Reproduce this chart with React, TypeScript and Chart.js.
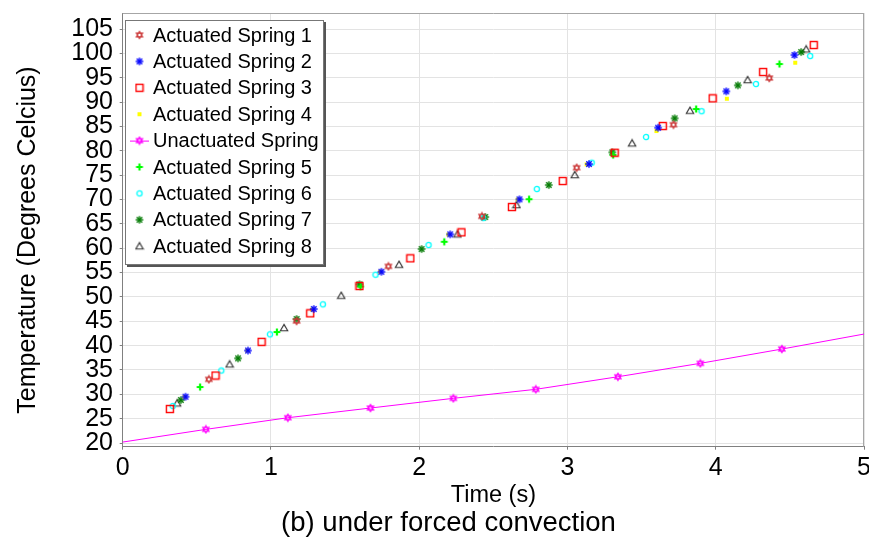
import React, { useEffect, useRef } from 'react';
import { Chart, registerables } from 'chart.js';

Chart.register(...registerables);

const FONT = '"Liberation Sans", Arial, Helvetica, sans-serif';

// ---- text ----
const xTitle = 'Time (s)';
const yTitle = 'Temperature (Degrees Celcius)';
const caption = '(b) under forced convection';

// ---- tick labels ----
const xTickValues = [0, 1, 2, 3, 4, 5];
const yTickValues = [20, 25, 30, 35, 40, 45, 50, 55, 60, 65, 70, 75, 80, 85, 90, 95, 100, 105];

// ---- series ----
const spring1Time = [0.581, 1.173, 1.792, 2.423, 3.062, 3.715, 4.361];
const spring1Temp = [33.08, 45.05, 56.28, 66.55, 76.53, 85.36, 94.95];

const spring2Time = [0.424, 0.845, 1.289, 1.745, 2.209, 2.676, 3.145, 3.611, 4.071, 4.531];
const spring2Temp = [29.51, 38.99, 47.52, 55.17, 62.85, 70.04, 77.29, 84.74, 92.22, 99.67];

const spring3Time = [0.318, 0.626, 0.937, 1.265, 1.597, 1.940, 2.285, 2.625, 2.968, 3.318, 3.643, 3.979, 4.320, 4.661];
const spring3Temp = [26.98, 33.86, 40.78, 46.63, 52.24, 57.93, 63.26, 68.46, 73.8, 79.61, 85.09, 90.78, 96.18, 101.72];

const spring4Time = [0.416, 0.840, 1.277, 1.736, 2.196, 2.664, 3.129, 3.600, 4.075, 4.536];
const spring4Temp = [29.45, 38.99, 47.41, 55.17, 62.81, 70.0, 77.23, 84.07, 90.7, 98.09];

const unactuatedTime = [0, 0.561, 1.114, 1.671, 2.230, 2.786, 3.340, 3.896, 4.446, 5.0];
const unactuatedTemp = [20.2, 22.81, 25.2, 27.19, 29.18, 31.03, 33.61, 36.37, 39.3, 42.38];
const unactuatedMarker = [false, true, true, true, true, true, true, true, true, false];

const spring5Time = [0.522, 1.040, 1.604, 2.169, 2.741, 3.308, 3.868, 4.430];
const spring5Temp = [31.5, 42.79, 52.14, 61.33, 70.06, 79.14, 88.58, 97.82];

const spring6Time = [0.337, 0.665, 0.993, 1.350, 1.705, 2.063, 2.431, 2.793, 3.163, 3.530, 3.904, 4.271, 4.637];
const spring6Temp = [27.6, 34.89, 42.32, 48.48, 54.56, 60.66, 66.2, 72.16, 77.56, 82.83, 88.13, 93.72, 99.47];

const spring7Time = [0.392, 0.778, 1.173, 1.597, 2.016, 2.445, 2.874, 3.302, 3.723, 4.149, 4.576];
const spring7Temp = [28.83, 37.39, 45.46, 52.59, 59.84, 66.41, 72.98, 79.69, 86.67, 93.45, 100.29];

const spring8Time = [0.367, 0.721, 1.088, 1.474, 1.864, 2.258, 2.656, 3.049, 3.436, 3.826, 4.215, 4.610];
const spring8Temp = [28.15, 36.16, 43.61, 50.25, 56.61, 62.85, 68.87, 75.03, 81.54, 88.23, 94.54, 100.84];

type MarkerKind = 'hexagram' | 'asterisk' | 'square' | 'dot' | 'plus' | 'circle' | 'triangle';

function makeMarker(kind: MarkerKind, color: string): HTMLCanvasElement {
  const size = kind === 'dot' ? 6 : 10;
  const cv = document.createElement('canvas');
  cv.width = size;
  cv.height = size;
  const ctx = cv.getContext('2d') as CanvasRenderingContext2D;
  const c = size / 2;
  ctx.strokeStyle = color;
  ctx.fillStyle = color;
  ctx.lineJoin = 'miter';
  if (kind === 'hexagram') {
    const r = 3.7;
    ctx.lineWidth = 1.1;
    for (const off of [-90, 90]) {
      ctx.beginPath();
      for (let k = 0; k < 3; k++) {
        const a = ((off + k * 120) * Math.PI) / 180;
        const px = c + r * Math.cos(a);
        const py = c + r * Math.sin(a);
        if (k === 0) ctx.moveTo(px, py);
        else ctx.lineTo(px, py);
      }
      ctx.closePath();
      ctx.stroke();
    }
  } else if (kind === 'asterisk') {
    const r = 3.8;
    ctx.lineWidth = 1.4;
    for (const deg of [0, 45, 90, 135]) {
      const a = (deg * Math.PI) / 180;
      ctx.beginPath();
      ctx.moveTo(c - r * Math.cos(a), c - r * Math.sin(a));
      ctx.lineTo(c + r * Math.cos(a), c + r * Math.sin(a));
      ctx.stroke();
    }
  } else if (kind === 'square') {
    ctx.lineWidth = 1.4;
    ctx.strokeRect(c - 3.5, c - 3.5, 7, 7);
  } else if (kind === 'dot') {
    ctx.fillRect(c - 2, c - 2, 4, 4);
  } else if (kind === 'plus') {
    ctx.lineWidth = 2.2;
    ctx.beginPath();
    ctx.moveTo(c - 3.4, c);
    ctx.lineTo(c + 3.4, c);
    ctx.moveTo(c, c - 3.4);
    ctx.lineTo(c, c + 3.4);
    ctx.stroke();
  } else if (kind === 'circle') {
    ctx.lineWidth = 1.3;
    ctx.beginPath();
    ctx.arc(c, c, 2.6, 0, Math.PI * 2);
    ctx.stroke();
  } else if (kind === 'triangle') {
    ctx.lineWidth = 1.1;
    ctx.beginPath();
    ctx.moveTo(c, c - 3.6);
    ctx.lineTo(c + 3.7, c + 2.8);
    ctx.lineTo(c - 3.7, c + 2.8);
    ctx.closePath();
    ctx.stroke();
  }
  return cv;
}

interface SeriesDef {
  label: string;
  xs: number[];
  ys: number[];
  kind: MarkerKind;
  color: string;
  line?: boolean;
  markers?: boolean[];
}

const seriesDefs: SeriesDef[] = [
  { label: 'Actuated Spring 1', xs: spring1Time, ys: spring1Temp, kind: 'hexagram', color: '#cc3a3a' },
  { label: 'Actuated Spring 2', xs: spring2Time, ys: spring2Temp, kind: 'asterisk', color: '#0000ff' },
  { label: 'Actuated Spring 3', xs: spring3Time, ys: spring3Temp, kind: 'square', color: '#ff0000' },
  { label: 'Actuated Spring 4', xs: spring4Time, ys: spring4Temp, kind: 'dot', color: '#ffff00' },
  { label: 'Unactuated Spring', xs: unactuatedTime, ys: unactuatedTemp, kind: 'hexagram', color: '#ff00ff', line: true, markers: unactuatedMarker },
  { label: 'Actuated Spring 5', xs: spring5Time, ys: spring5Temp, kind: 'plus', color: '#00ff00' },
  { label: 'Actuated Spring 6', xs: spring6Time, ys: spring6Temp, kind: 'circle', color: '#00ffff' },
  { label: 'Actuated Spring 7', xs: spring7Time, ys: spring7Temp, kind: 'asterisk', color: '#007a00' },
  { label: 'Actuated Spring 8', xs: spring8Time, ys: spring8Temp, kind: 'triangle', color: '#333333' },
];

export default function App() {
  const ref = useRef<HTMLCanvasElement>(null);

  useEffect(() => {
    const canvas = ref.current;
    if (!canvas) return;
    const images = seriesDefs.map((s) => makeMarker(s.kind, s.color));

    const datasets: any[] = seriesDefs.map((s, i) => ({
      label: s.label,
      data: s.xs.map((x, j) => ({ x, y: s.ys[j] })),
      pointStyle: images[i],
      pointRadius: s.markers ? s.markers.map((m) => (m ? 4 : 0)) : 4,
      borderColor: s.color,
      backgroundColor: s.color,
      borderWidth: 1,
      showLine: !!s.line,
      tension: 0,
      clip: false,
    }));

    const framePlugin = {
      id: 'frame',
      beforeDatasetsDraw(chart: any) {
        const { ctx, chartArea } = chart;
        ctx.save();
        ctx.strokeStyle = '#a6a6a6';
        ctx.lineWidth = 1;
        ctx.beginPath();
        ctx.moveTo(chartArea.left, chartArea.top + 0.5);
        ctx.lineTo(chartArea.right, chartArea.top + 0.5);
        ctx.moveTo(chartArea.right - 0.5, chartArea.top);
        ctx.lineTo(chartArea.right - 0.5, chartArea.bottom);
        ctx.stroke();
        ctx.restore();
      },
    };

    const textPlugin = {
      id: 'extraText',
      afterDraw(chart: any) {
        const { ctx } = chart;
        ctx.save();
        ctx.fillStyle = '#000';
        ctx.textAlign = 'center';
        ctx.textBaseline = 'middle';
        ctx.font = `27.5px ${FONT}`;
        ctx.fillText(caption, 448.5, 523.5);
        ctx.translate(28, 240);
        ctx.rotate(-Math.PI / 2);
        ctx.font = `25px ${FONT}`;
        ctx.fillText(yTitle, 0, 0);
        ctx.restore();
      },
    };

    const legendPlugin = {
      id: 'boxLegend',
      afterDraw(chart: any) {
        const { ctx } = chart;
        const lx = 125;
        const ly = 20;
        const lw = 199;
        const lh = 245;
        ctx.save();
        ctx.fillStyle = '#555';
        ctx.fillRect(lx + 2, ly + 2, lw, lh);
        ctx.fillStyle = '#fff';
        ctx.fillRect(lx, ly, lw, lh);
        ctx.strokeStyle = '#777';
        ctx.lineWidth = 1;
        ctx.strokeRect(lx + 0.5, ly + 0.5, lw - 1, lh - 1);
        ctx.font = `20px ${FONT}`;
        ctx.textBaseline = 'middle';
        ctx.textAlign = 'left';
        chart.data.datasets.forEach((ds: any, i: number) => {
          const y = 35 + i * 26.4;
          if (ds.showLine) {
            ctx.strokeStyle = ds.borderColor;
            ctx.lineWidth = 1;
            ctx.beginPath();
            ctx.moveTo(130, y + 0.5);
            ctx.lineTo(149, y + 0.5);
            ctx.stroke();
          }
          const img = images[i];
          ctx.drawImage(img, 139.5 - img.width / 2, y - img.height / 2);
          ctx.fillStyle = '#000';
          ctx.fillText(ds.label, 153, y + 1);
        });
        ctx.restore();
      },
    };

    const tickFont = { family: FONT, size: 25, lineHeight: 1.0 };

    const chart = new Chart(canvas, {
      type: 'scatter',
      data: { datasets },
      options: {
        responsive: false,
        animation: false,
        devicePixelRatio: 1,
        events: [],
        layout: { padding: { top: 13, right: 3.3, left: 0, bottom: 35 } },
        plugins: {
          legend: { display: false },
          tooltip: { enabled: false },
          title: { display: false },
        },
        scales: {
          x: {
            type: 'linear',
            min: 0,
            max: 5,
            afterBuildTicks: (scale: any) => {
              scale.ticks = xTickValues.map((v) => ({ value: v }));
            },
            afterFit: (scale: any) => {
              scale.height = 60.3;
              scale.paddingLeft = 0;
              scale.paddingRight = 0;
            },
            ticks: { color: '#000', font: tickFont, padding: 6, maxRotation: 0, autoSkip: false },
            grid: { color: '#e3e3e3', tickColor: '#808080', tickLength: 3 },
            border: { display: true, color: '#808080' },
            title: {
              display: true,
              text: xTitle,
              color: '#000',
              font: { family: FONT, size: 23.5, lineHeight: 1 },
              padding: { top: 0, bottom: 0 },
            },
          },
          y: {
            type: 'linear',
            min: 19.25,
            max: 108.3,
            afterBuildTicks: (scale: any) => {
              scale.ticks = yTickValues.map((v) => ({ value: v }));
            },
            afterFit: (scale: any) => {
              scale.width = 122.7;
              scale.paddingTop = 0;
              scale.paddingBottom = 0;
            },
            ticks: { color: '#000', font: tickFont, padding: 6.7, autoSkip: false },
            grid: { color: '#e3e3e3', tickColor: '#808080', tickLength: 3 },
            border: { display: true, color: '#808080' },
          },
        },
      } as any,
      plugins: [framePlugin, textPlugin, legendPlugin],
    });

    return () => chart.destroy();
  }, []);

  return (
    <div style={{ position: 'absolute', left: 0, top: 0, width: 869, height: 542, background: '#fff' }}>
      <canvas ref={ref} width={869} height={542} style={{ display: 'block', width: 869, height: 542 }} />
    </div>
  );
}
